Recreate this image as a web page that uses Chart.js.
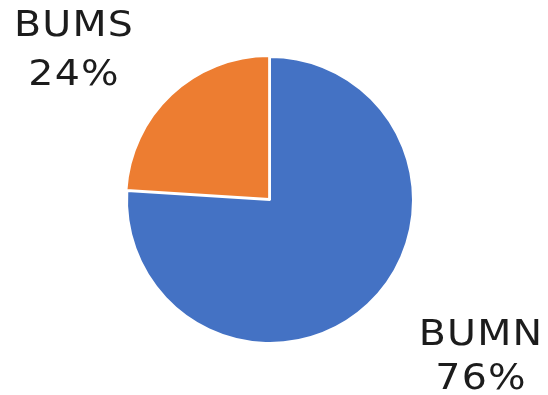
<!DOCTYPE html>
<html>
<head>
<meta charset="utf-8">
<script src="https://cdn.jsdelivr.net/npm/chart.js@4/dist/chart.umd.min.js"></script>
<style>
html,body{margin:0;padding:0;background:#fff;}
#wrap{width:548px;height:395px;}
</style>
</head>
<body>
<div id="wrap"><canvas id="c" width="548" height="395"></canvas></div>
<script>
const categories = ["BUMN", "BUMS"];
const values = [76, 24];
const colors = ["#4472C4", "#ED7D31"];

// label offsets relative to pie centre (px) - layout only
const labelPos = [
  {dx: 211, dy: 136, gap: 44},
  {dx: -196, dy: -173, gap: 49}
];

const labelPlugin = {
  id: 'pieLabels',
  afterDraw(chart) {
    const ctx = chart.ctx;
    const meta = chart.getDatasetMeta(0);
    const total = values.reduce((a, b) => a + b, 0);
    meta.data.forEach((arc, i) => {
      const p = labelPos[i];
      const pct = Math.round(values[i] / total * 100) + '%';
      const lines = [categories[i], pct];
      lines.forEach((t, k) => {
        ctx.save();
        ctx.translate(arc.x + p.dx, arc.y + p.dy + k * p.gap);
        ctx.scale(1.13, 1);
        ctx.font = '35px "DejaVu Sans"';
        ctx.letterSpacing = '1px';
        ctx.fillStyle = '#1c1c1c';
        ctx.textAlign = 'center';
        ctx.textBaseline = 'middle';
        ctx.fillText(t, 0, 0);
        ctx.restore();
      });
    });
  }
};

new Chart(document.getElementById('c'), {
  type: 'pie',
  data: {
    labels: categories,
    datasets: [{
      data: values,
      backgroundColor: colors,
      borderColor: '#ffffff',
      borderWidth: 2,
      offset: [0, 5],
      radius: 143
    }]
  },
  options: {
    responsive: false,
    animation: false,
    layout: {padding: {left: 100, right: 108, top: 55, bottom: 50}},
    plugins: {legend: {display: false}, tooltip: {enabled: false}}
  },
  plugins: [labelPlugin]
});
</script>
</body>
</html>
